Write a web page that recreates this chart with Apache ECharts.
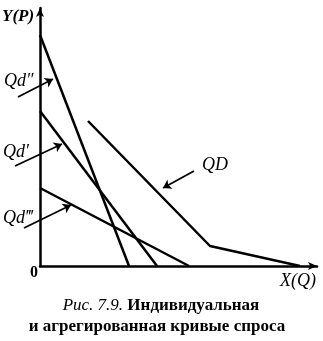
<!DOCTYPE html>
<html><head><meta charset="utf-8">
<script src="https://cdn.jsdelivr.net/npm/echarts@6/dist/echarts.min.js"></script>
<style>html,body{margin:0;padding:0;background:#fff}#c{width:323px;height:341px}</style>
</head><body><div id="c"></div>
<script>
// Data units: quantity X(Q) and price Y(P), arbitrary units
const qdDoublePrime = [[0, 23.1], [8.9, 0]];   // Qd''
const qdPrime       = [[0, 15.5], [11.7, 0]];  // Qd'
const qdTriplePrime = [[0, 7.8], [14.9, 0]];   // Qd'''
const qdAggregate   = [[4.8, 14.5], [17.0, 2.0], [26.0, 0]]; // QD
// annotation arrows (from label to curve), data units
const arrowDoublePrime = [[-2.2, 16.9], [1.3, 18.7]];
const arrowPrime       = [[-2.5, 10.0], [2.2, 12.2]];
const arrowTriplePrime = [[-1.6, 3.8], [3.1, 6.1]];
const arrowAggregate   = [[15.4, 9.5], [12.3, 7.8]];
const labels = ["Y(P)", "X(Q)", "0", "Qd\u2033", "Qd\u2032", "Qd\u2034", "QD"];
const captionItalic = "Рис. 7.9.";
const captionBold1 = " Индивидуальная";
const captionBold2 = "и агрегированная кривые спроса";

const chart = echarts.init(document.getElementById('c'), null, {renderer: 'canvas'});
const lineStyle = {color: '#000', width: 2.5};
function curve(d) {
  return {type: 'line', data: d, symbol: 'none', lineStyle: lineStyle, silent: true, animation: false, clip: false};
}
function arrow(d) {
  return {type: 'lines', coordinateSystem: 'cartesian2d', polyline: false, clip: false,
    data: [{coords: d}], symbol: ['none', 'arrow'], symbolSize: 8,
    lineStyle: {color: '#000', width: 1.8, opacity: 1}, silent: true, animation: false};
}
const serif = '"Liberation Serif", "DejaVu Serif", serif';
function txt(t, x, y, opts) {
  return Object.assign({type: 'text', x: x, y: y, style: Object.assign({text: t, fill: '#000', font: 'italic 18px ' + serif, textVerticalAlign: 'middle'}, opts || {})});
}
chart.setOption({
  animation: false,
  grid: {left: 40, top: 8, width: 277, height: 258},
  xAxis: {type: 'value', min: 0, max: 27.7, axisLine: {show: true, symbol: ['none', 'arrow'], symbolSize: [6, 9], lineStyle: {color: '#000', width: 2.5}},
    axisTick: {show: false}, axisLabel: {show: false}, splitLine: {show: false}},
  yAxis: {type: 'value', min: 0, max: 25.8, axisLine: {show: true, symbol: ['none', 'arrow'], symbolSize: [6, 9], lineStyle: {color: '#000', width: 2.5}},
    axisTick: {show: false}, axisLabel: {show: false}, splitLine: {show: false}},
  series: [
    curve(qdDoublePrime), curve(qdPrime), curve(qdTriplePrime), curve(qdAggregate),
    arrow(arrowDoublePrime), arrow(arrowPrime), arrow(arrowTriplePrime), arrow(arrowAggregate)
  ],
  graphic: [
    txt(labels[0], 2, 17, {font: 'italic bold 17px ' + serif}),
    txt(labels[1], 280, 281),
    txt(labels[2], 30, 273, {font: 'bold 16px ' + serif}),
    txt(labels[3], 4, 81),
    txt(labels[4], 3, 152),
    txt(labels[5], 3, 218),
    txt(labels[6], 202, 165),
    {type: 'text', x: 161, y: 306, style: {rich: {i: {font: 'italic 17px ' + serif, fill: '#000'}, b: {font: 'bold 17px ' + serif, fill: '#000'}},
      text: '{i|' + captionItalic + '}{b|' + captionBold1 + '}', textAlign: 'center', textVerticalAlign: 'middle'}},
    {type: 'text', x: 157, y: 327, style: {text: captionBold2, font: 'bold 17px ' + serif, fill: '#000', textAlign: 'center', textVerticalAlign: 'middle'}}
  ]
});
</script></body></html>
